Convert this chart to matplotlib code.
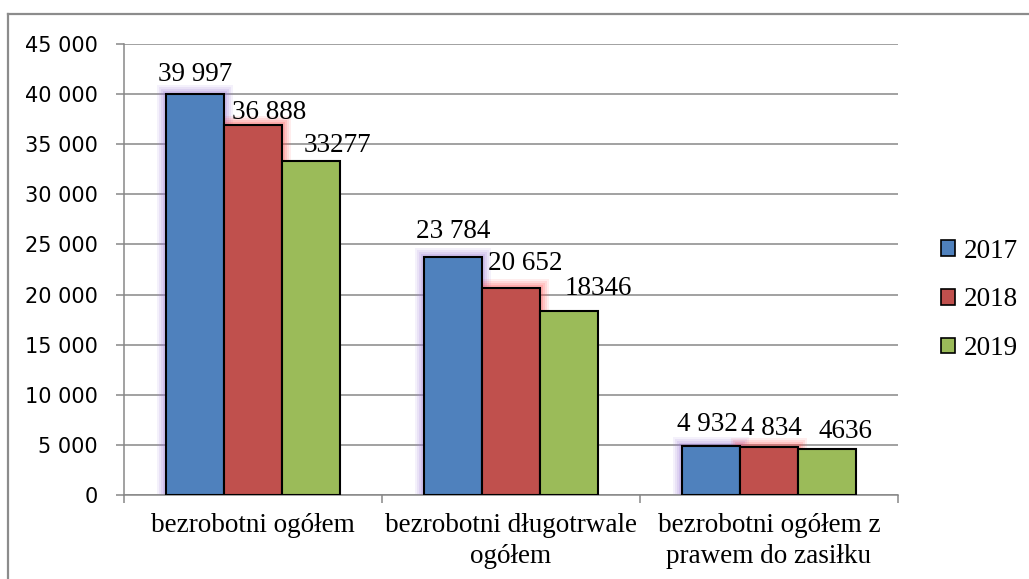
import matplotlib
matplotlib.use("Agg")
import matplotlib.pyplot as plt
import numpy as np
from matplotlib.lines import Line2D
from matplotlib.patches import Patch

categories = ["bezrobotni ogółem", "bezrobotni długotrwale\nogółem", "bezrobotni ogółem z\nprawem do zasiłku"]
years = ["2017", "2018", "2019"]
values_2017 = [39997, 23784, 4932]
values_2018 = [36888, 20652, 4834]
values_2019 = [33277, 18346, 4636]
labels_2017 = ["39 997", "23 784", "4 932"]
labels_2018 = ["36 888", "20 652", "4 834"]
labels_2019 = ["33277", "18346", "4636"]
yticks = [0, 5000, 10000, 15000, 20000, 25000, 30000, 35000, 40000, 45000]
ytick_labels = ["0", "5 000", "10 000", "15 000", "20 000", "25 000", "30 000", "35 000", "40 000", "45 000"]

series = [values_2017, values_2018, values_2019]
series_labels = [labels_2017, labels_2018, labels_2019]
colors = ["#4F81BD", "#C0504D", "#9BBB59"]
glows = ["#9A7AD8", "#FF5050", None]
# label offsets in pixels (dx, dy) from bar top-centre to text baseline-centre
offsets = [
    [(0, 13), (0, 19), (-4, 15)],
    [(16, 6), (14, 18), (2, 12)],
    [(26, 9), (29, 16), (18, 11)],
]

W, H = 1029, 579
fig = plt.figure(figsize=(W / 100, H / 100), dpi=100)
ax = fig.add_axes([124 / W, 1 - 495 / H, (898 - 124) / W, (495 - 44) / H])

grid_col = "#878787"
serif = "Liberation Serif"

x = np.arange(len(categories))
bw = 0.225
for i, (vals, col) in enumerate(zip(series, colors)):
    xpos = x + (i - 1) * bw
    if glows[i] is not None:
        for lw, a in [(18, 0.10), (14, 0.12), (10, 0.15), (6, 0.2)]:
            ax.bar(xpos, vals, width=bw, facecolor="none", edgecolor=glows[i],
                   linewidth=lw * 0.72, alpha=a, zorder=2)
    ax.bar(xpos, vals, width=bw, color=col, edgecolor="black", linewidth=1.5, zorder=3)
    for j, v in enumerate(vals):
        dx, dy = offsets[i][j]
        ax.annotate(series_labels[i][j], (xpos[j], v), xytext=(dx, dy),
                    textcoords="offset pixels", ha="center", va="baseline",
                    fontsize=19.5, family=serif, color="black", zorder=5)

ax.set_xlim(-0.5, 2.5)
ax.set_ylim(0, 45000)
ax.set_yticks(yticks)
ax.set_yticklabels(ytick_labels, fontsize=15, family="DejaVu Sans")
ax.tick_params(axis="y", length=6, width=1.1, color=grid_col, pad=13)
ax.yaxis.grid(True, color=grid_col, linewidth=1.1, zorder=0)
ax.set_axisbelow(True)

ax.set_xticks(x)
ax.set_xticklabels(categories, fontsize=19.5, family=serif, linespacing=1.3)
ax.tick_params(axis="x", which="major", length=0, pad=13)
ax.set_xticks([-0.5, 0.5, 1.5, 2.5], minor=True)
ax.tick_params(axis="x", which="minor", length=6, width=1.1, color=grid_col)

for s in ["top", "right"]:
    ax.spines[s].set_visible(False)
for s in ["left", "bottom"]:
    ax.spines[s].set_color(grid_col)
    ax.spines[s].set_linewidth(1.1)

handles = [Patch(facecolor=c, edgecolor="black", linewidth=1.2) for c in colors]
leg = fig.legend(handles, years, loc="center left", bbox_to_anchor=(941 / W, 1 - 300 / H),
                 frameon=False, prop={"family": serif, "size": 19.5},
                 handlelength=0.5, handleheight=0.5, handletextpad=0.35,
                 labelspacing=0.88, borderaxespad=0, borderpad=0)

# outer chart border
fig.add_artist(Line2D([8 / W, 1.0], [1 - 14 / H, 1 - 14 / H], color="#8c8c8c", linewidth=1.6))
fig.add_artist(Line2D([8 / W, 8 / W], [0, 1 - 14 / H], color="#8c8c8c", linewidth=1.6))

fig.savefig("out.png", dpi=100)
